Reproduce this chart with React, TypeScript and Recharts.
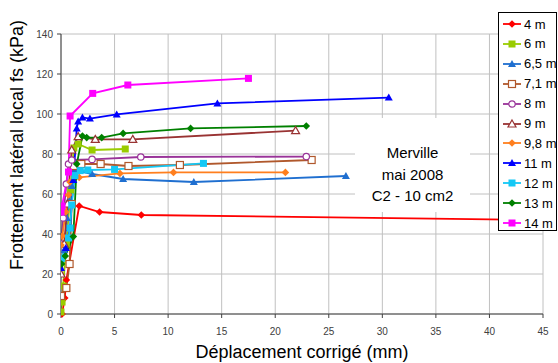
import { CartesianGrid, Label, Line, LineChart, XAxis, YAxis } from "recharts";

// displacement (mm) and skin friction (kPa) per depth
const X_4M = [0.1, 0.35, 0.5, 1.7, 3.6, 7.5, 44];
const Y_4M = [0, 8, 17, 54, 51, 49.5, 47];
const X_6M = [0, 0.1, 0.2, 0.5, 0.9, 1.2, 1.6, 2.9, 6.0];
const Y_6M = [1, 6, 14, 35, 62, 83, 85, 82, 82.5];
const X_65M = [0, 0.3, 0.55, 0.75, 1.0, 1.3, 2.9, 5.8, 12.4, 26.6];
const Y_65M = [20, 32, 48, 57, 64, 72, 70, 67.5, 66, 69];
const X_71M = [0, 0.5, 0.8, 1.0, 1.2, 1.9, 3.7, 6.3, 11.1, 23.4];
const Y_71M = [9, 13, 25, 55, 74, 75, 75, 74, 74.5, 77];
const X_8M = [0, 0.2, 0.5, 0.7, 1.0, 2.9, 7.45, 22.9];
const Y_8M = [35, 48, 65, 75, 77, 77.3, 78.5, 78.7];
const X_9M = [0, 0.3, 0.6, 1.0, 1.6, 3.2, 6.7, 21.9];
const Y_9M = [20, 35, 55, 82, 88.7, 87.3, 87.3, 91.7];
const X_98M = [0, 0.12, 0.45, 0.7, 0.85, 1.7, 5.5, 10.5, 20.95];
const Y_98M = [34.5, 39, 51, 59.5, 66, 68.3, 70.3, 70.8, 70.8];
const X_11M = [0, 0.45, 0.85, 1.15, 1.47, 1.6, 2.0, 2.7, 5.2, 14.6, 30.6];
const Y_11M = [23, 33, 43, 67, 92.8, 96.2, 98.3, 97.7, 99.8, 105.3, 108.2];
const X_12M = [0.05, 0.7, 0.85, 1.0, 1.3, 1.8, 2.5, 5.0, 13.3];
const Y_12M = [27.8, 38, 43, 54.5, 69.2, 71.7, 72, 72.3, 75.3];
const X_13M = [0.05, 0.4, 1.15, 1.47, 2.0, 2.4, 3.8, 5.8, 12.1, 22.9];
const Y_13M = [25, 29, 38.7, 75, 89, 88.2, 88.2, 90.3, 92.8, 94];
const X_14M = [0, 0.1, 0.7, 0.85, 2.96, 6.24, 17.5];
const Y_14M = [51, 54, 71, 99, 110.3, 114.5, 117.8];

const X_TICKS = [0, 5, 10, 15, 20, 25, 30, 35, 40, 45];
const Y_TICKS = [0, 20, 40, 60, 80, 100, 120, 140];
const NOTE_LINES = ["Merville", "mai 2008", "C2 - 10 cm2"];

const FONT = "'Liberation Sans', Arial, sans-serif";

type Shape = "diamond" | "square" | "triangle" | "circle";

const zip = (xs: number[], ys: number[]) => xs.map((x, i) => ({ x, y: ys[i] }));

const SERIES: { name: string; color: string; shape: Shape; open?: boolean; data: { x: number; y: number }[] }[] = [
  { name: "4 m", color: "#ff0000", shape: "diamond", data: zip(X_4M, Y_4M) },
  { name: "6 m", color: "#99cc00", shape: "square", data: zip(X_6M, Y_6M) },
  { name: "6,5 m", color: "#1f6fd0", shape: "triangle", data: zip(X_65M, Y_65M) },
  { name: "7,1 m", color: "#b0582c", shape: "square", open: true, data: zip(X_71M, Y_71M) },
  { name: "8 m", color: "#993399", shape: "circle", open: true, data: zip(X_8M, Y_8M) },
  { name: "9 m", color: "#993333", shape: "triangle", open: true, data: zip(X_9M, Y_9M) },
  { name: "9,8 m", color: "#ff7f1e", shape: "diamond", data: zip(X_98M, Y_98M) },
  { name: "11 m", color: "#0000ff", shape: "triangle", data: zip(X_11M, Y_11M) },
  { name: "12 m", color: "#14c8f5", shape: "square", data: zip(X_12M, Y_12M) },
  { name: "13 m", color: "#008000", shape: "diamond", data: zip(X_13M, Y_13M) },
  { name: "14 m", color: "#ff00ff", shape: "square", data: zip(X_14M, Y_14M) },
];

function Marker({ cx, cy, shape, color, open }: { cx: number; cy: number; shape: Shape; color: string; open?: boolean }) {
  const fill = open ? "#fff" : color;
  const sw = open ? 1.2 : 0;
  if (shape === "square")
    return <rect x={cx - 3.5} y={cy - 3.5} width={7} height={7} fill={fill} stroke={color} strokeWidth={sw} />;
  if (shape === "triangle")
    return <polygon points={`${cx},${cy - 4} ${cx + 4},${cy + 3} ${cx - 4},${cy + 3}`} fill={fill} stroke={color} strokeWidth={sw} />;
  if (shape === "circle") return <circle cx={cx} cy={cy} r={3.2} fill={fill} stroke={color} strokeWidth={1.2} />;
  return <polygon points={`${cx},${cy - 3.8} ${cx + 3.8},${cy} ${cx},${cy + 3.8} ${cx - 3.8},${cy}`} fill={fill} />;
}

function LegendBox() {
  return (
    <div
      style={{
        position: "absolute",
        left: 498,
        top: 12,
        width: 59,
        height: 219,
        boxSizing: "border-box",
        border: "1px solid #000",
        background: "#fff",
        fontFamily: FONT,
        fontSize: 13,
        color: "#000",
      }}
    >
      {SERIES.map((s, i) => (
        <div key={s.name} style={{ position: "absolute", left: 3, top: 2 + i * 19.9, height: 18, display: "flex", alignItems: "center", whiteSpace: "nowrap" }}>
          <svg width={20} height={12} style={{ display: "block" }}>
            <line x1={1} y1={6} x2={19} y2={6} stroke={s.color} strokeWidth={1.8} />
            <Marker cx={10} cy={6} shape={s.shape} color={s.color} open={s.open} />
          </svg>
          <span style={{ marginLeft: 2 }}>{s.name}</span>
        </div>
      ))}
    </div>
  );
}

export default function App() {
  return (
    <div style={{ position: "absolute", left: 0, top: 0, width: 558, height: 363, background: "#fff" }}>
      <LineChart width={558} height={363} margin={{ top: 34, right: 15, bottom: 19, left: 21 }}>
        <CartesianGrid stroke="#c0c0c0" strokeWidth={1} />
        <XAxis
          type="number"
          dataKey="x"
          domain={[0, 45]}
          ticks={X_TICKS}
          allowDataOverflow
          height={30}
          tickSize={4}
          tickMargin={10}
          stroke="#404040"
          tick={{ fill: "#404040", fontSize: 10, fontFamily: FONT }}
        >
          <Label
            value="Déplacement corrigé (mm)"
            position="bottom"
            offset={1}
            style={{ fill: "#000", fontSize: 18, fontFamily: FONT }}
          />
        </XAxis>
        <YAxis
          type="number"
          dataKey="y"
          domain={[0, 140]}
          ticks={Y_TICKS}
          width={40}
          tickSize={4}
          tickMargin={4}
          stroke="#404040"
          tick={{ fill: "#404040", fontSize: 10, fontFamily: FONT }}
          label={() => (
            <text
              x={17}
              y={145}
              transform="rotate(-90 17 145)"
              textAnchor="middle"
              dominantBaseline="central"
              style={{ fill: "#000", fontSize: 18, fontFamily: FONT }}
            >
              Frottement latéral local fs (kPa)
            </text>
          )}
        />
        {SERIES.map((s) => (
          <Line
            key={s.name}
            data={s.data}
            dataKey="y"
            name={s.name}
            type="linear"
            stroke={s.color}
            strokeWidth={1.8}
            isAnimationActive={false}
            dot={(p: any) => (
              <g key={`${s.name}-${p.index}`}>
                <Marker cx={p.cx} cy={p.cy} shape={s.shape} color={s.color} open={s.open} />
              </g>
            )}
            activeDot={false}
          />
        ))}
      </LineChart>
      <div
        style={{
          position: "absolute",
          left: 355,
          top: 118,
          width: 115,
          height: 94,
          background: "#fff",
          fontFamily: FONT,
          fontSize: 15,
          color: "#000",
        }}
      >
        {NOTE_LINES.map((t, i) => (
          <div
            key={t}
            style={{ position: "absolute", left: 0, width: 115, textAlign: "center", top: 35 + i * 21.5 - 10, height: 20, lineHeight: "20px" }}
          >
            {t}
          </div>
        ))}
      </div>
      <LegendBox />
    </div>
  );
}
